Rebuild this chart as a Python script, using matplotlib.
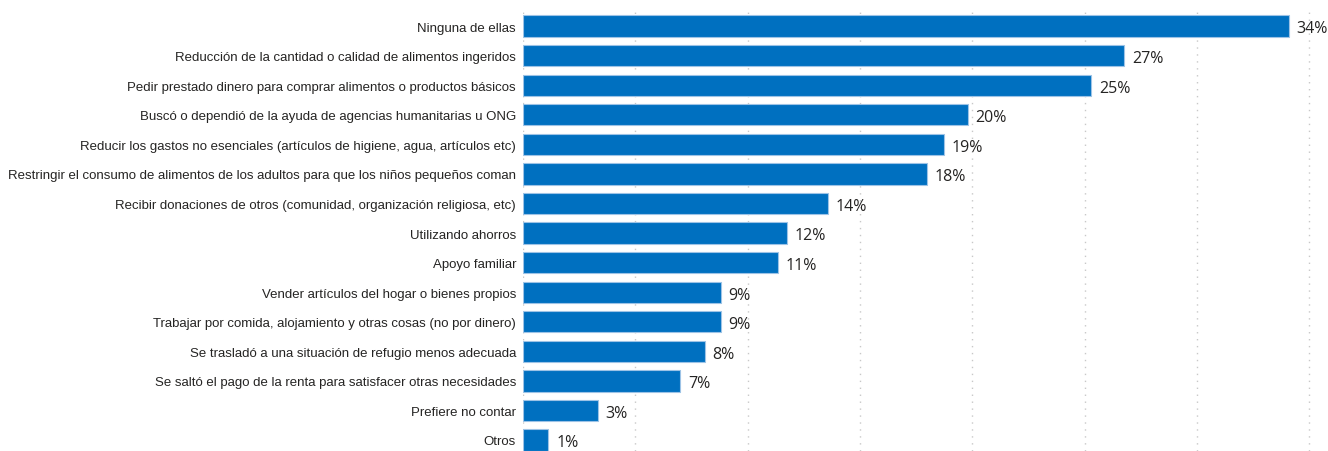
import matplotlib.pyplot as plt
import numpy as np

# datos
categorias = [
    "Ninguna de ellas",
    "Reducción de la cantidad o calidad de alimentos ingeridos",
    "Pedir prestado dinero para comprar alimentos o productos básicos",
    "Buscó o dependió de la ayuda de agencias humanitarias u ONG",
    "Reducir los gastos no esenciales (artículos de higiene, agua, artículos etc)",
    "Restringir el consumo de alimentos de los adultos para que los niños pequeños coman",
    "Recibir donaciones de otros (comunidad, organización religiosa, etc)",
    "Utilizando ahorros",
    "Apoyo familiar",
    "Vender artículos del hogar o bienes propios",
    "Trabajar por comida, alojamiento y otras cosas (no por dinero)",
    "Se trasladó a una situación de refugio menos adecuada",
    "Se saltó el pago de la renta para satisfacer otras necesidades",
    "Prefiere no contar",
    "Otros",
]
valores = [34.09, 26.76, 25.29, 19.8, 18.73, 17.97, 13.57, 11.75, 11.35,
           8.8, 8.8, 8.09, 7.0, 3.33, 1.13]

W, H = 1328, 452
fig = plt.figure(figsize=(W / 100, H / 100), dpi=100)
ax = fig.add_axes([523 / W, 0, (W - 523) / W, 1 - 8 / H])

y = np.arange(len(categorias))
ax.barh(y, valores, height=0.72, color="#0070C0", edgecolor="#9DC3E6",
        linewidth=0.8, zorder=3)

ax.set_xlim(0, (W - 523) / 22.46)
ax.set_ylim(len(categorias) - 1 + 0.372, -0.643)

ax.set_xticks(np.arange(0, 36, 5))
ax.grid(axis="x", color="#C8C8C8", linestyle=(0, (1, 4)), linewidth=1, zorder=0)
ax.tick_params(axis="both", length=0)
ax.set_xticklabels([])
ax.set_yticks(y)
ax.set_yticklabels(categorias, fontsize=9.5, color="#252423",
                   family=["Liberation Sans", "DejaVu Sans"])
ax.tick_params(axis="y", pad=5)
for s in ax.spines.values():
    s.set_visible(False)

for yi, v in zip(y, valores):
    ax.text(v + 0.35, yi + 0.08, f"{v:.0f}%", va="center", ha="left",
            fontsize=11.5, color="#252423", family=["Open Sans", "DejaVu Sans"])

fig.savefig("out.png", dpi=100)
